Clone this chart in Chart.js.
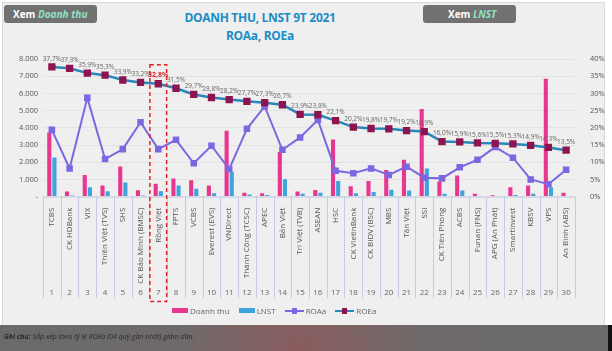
<!DOCTYPE html>
<html>
<head>
<meta charset="utf-8">
<script src="https://cdn.jsdelivr.net/npm/chart.js@4.4.1/dist/chart.umd.min.js"></script>
<style>
  body { margin: 0; width: 612px; height: 351px; background: #fff; position: relative; overflow: hidden; font-family: 'Open Sans', sans-serif; }
  #panel { position: absolute; left: 2px; top: 2px; width: 601px; height: 322px; background: #efefef; border: 1px solid #d9d9d9; }
  .btn { position: absolute; top: 5px; height: 18px; background: #717171; border-radius: 3px; color: #fff; font-weight: bold; font-size: 10px; line-height: 18px; box-sizing: border-box; }
  .btn i { color: #8fe3c2; }
  #title { position: absolute; left: 160px; width: 200px; top: 9px; text-align: center; color: #1b8cc8; font-weight: bold; font-size: 12px; line-height: 18px; letter-spacing: -0.3px; }
  #chart { position: absolute; left: 0; top: 0; }
  #legend { position: absolute; left: 172px; top: 305px; display: flex; align-items: center; font-size: 8px; color: #666; }
  #legend span.it { display: flex; align-items: center; margin-right: 9px; }
  .box { display: inline-block; width: 16px; height: 5px; margin-right: 2px; }
  .ln { position: relative; display: inline-block; width: 19px; height: 2px; margin-right: 2px; }
  .ln b { position: absolute; left: 7px; top: -2px; width: 5px; height: 6px; }
  #note { position: absolute; left: 0; top: 325px; width: 608px; height: 26px; background: radial-gradient(circle at 300px 30px, #8a5b5e 0, #6f6a6a 120px, #6a6a6a 300px); font-size: 7px; font-style: italic; color: #2a2a2a; line-height: 24px; padding-left: 4px; box-sizing: border-box; }
  #edge { position: absolute; left: 608px; top: 325px; width: 4px; height: 26px; background: #111; }
</style>
</head>
<body>
<div id="panel"></div>
<div class="btn" style="left:4px;width:93px;padding-left:9px;">Xem <i>Doanh thu</i></div>
<div class="btn" style="left:423px;width:93px;padding-left:25px;">Xem <i>LNST</i></div>
<div id="title">DOANH THU, LNST 9T 2021<br>ROAa, ROEa</div>
<canvas id="chart" width="612" height="351"></canvas>
<div id="legend">
  <span class="it"><span class="box" style="background:#e8378f"></span>Doanh thu</span>
  <span class="it"><span class="box" style="background:#3fa3dc"></span>LNST</span>
  <span class="it"><span class="ln" style="background:#7b68e0"><b style="background:#7b68e0"></b></span>ROAa</span>
  <span class="it"><span class="ln" style="background:#2a86b8"><b style="background:#8e1450"></b></span>ROEa</span>
</div>
<div id="note"><b>Ghi chú:</b> Sắp xếp theo tỷ lệ ROEa (04 quý gần nhất) giảm dần.</div>
<div id="edge"></div>
<script>
const categories = ['TCBS', 'CK HDBank', 'VIX', 'Thiên Việt (TVS)', 'SHS', 'CK Bảo Minh (BMSC)', 'Rồng Việt', 'FPTS', 'VCBS', 'Everest (EVS)',
  'VNDirect', 'Thành Công (TCSC)', 'APEC', 'Bản Việt', 'Trí Việt (TVB)', 'ASEAN', 'HSC', 'CK VietinBank', 'CK BIDV (BSC)', 'MBS',
  'Tân Việt', 'SSI', 'CK Tiên Phong', 'ACBS', 'Funan (FNS)', 'APG (An Phát)', 'Smartinvest', 'KBSV', 'VPS', 'An Bình (ABS)'];
const ranks = categories.map((c, i) => String(i + 1));

// ty dong
const revenue = [3730, 290, 1250, 640, 1750, 370, 740, 1050, 950, 640, 3830, 230, 190, 2590, 290, 390, 3320, 600, 900, 1550,
  2140, 5100, 880, 1230, 160, 80, 550, 640, 6850, 230];
const profit = [2270, 60, 540, 310, 820, 60, 310, 640, 450, 190, 1450, 120, 90, 1010, 170, 230, 900, 190, 270, 400,
  350, 1630, 160, 350, 40, 40, 100, 160, 550, 40];
// %
const roaa = [19.4, 8.2, 28.7, 10.9, 13.8, 21.6, 13.8, 16.5, 9.7, 14.8, 8.0, 19.7, 26.2, 13.6, 17.2, 22.3, 7.5, 6.8, 8.2, 6.3,
  8.7, 5.5, 5.3, 8.5, 10.7, 14.4, 11.3, 5.0, 3.6, 7.8];
const roea = [37.7, 37.3, 35.9, 35.3, 33.9, 33.2, 32.8, 31.5, 29.7, 28.8, 28.2, 27.7, 27.3, 26.7, 23.9, 23.8, 22.1, 20.2, 19.8, 19.7,
  19.2, 18.9, 16.0, 15.9, 15.6, 15.5, 15.3, 14.9, 14.3, 13.5];
const highlight = 6; // Rong Viet

const fmtPct = v => v.toFixed(1).replace('.', ',') + '%';

const extras = {
  id: 'extras',
  afterDatasetsDraw(chart) {
    const ctx = chart.ctx;
    const x = chart.scales.x;
    const y1 = chart.scales.y1;
    const step = x.getPixelForValue(1) - x.getPixelForValue(0);
    const bottom = chart.chartArea.bottom;

    ctx.save();
    // separators under the axis
    ctx.strokeStyle = '#c3c9e6';
    ctx.lineWidth = 1;
    for (let i = 0; i <= categories.length; i++) {
      const px = Math.round(x.getPixelForValue(i) - step / 2) + 0.5;
      ctx.beginPath();
      ctx.moveTo(px, bottom);
      ctx.lineTo(px, bottom + 102);
      ctx.stroke();
    }
    ctx.beginPath();
    ctx.moveTo(chart.chartArea.left, bottom + 0.5);
    ctx.lineTo(chart.chartArea.right, bottom + 0.5);
    ctx.stroke();

    // rank numbers
    ctx.fillStyle = '#666';
    ctx.font = '8px "Open Sans"';
    ctx.textAlign = 'center';
    ctx.textBaseline = 'middle';
    ranks.forEach((r, i) => ctx.fillText(r, x.getPixelForValue(i), bottom + 96));

    // ROEa labels
    const meta = chart.getDatasetMeta(3);
    ctx.textBaseline = 'bottom';
    meta.data.forEach((pt, i) => {
      if (i === highlight) {
        ctx.fillStyle = '#e02424';
        ctx.font = 'bold 7px "Open Sans"';
      } else {
        ctx.fillStyle = '#666';
        ctx.font = '6.5px "Open Sans"';
      }
      ctx.fillText(fmtPct(roea[i]), pt.x, pt.y - 5);
    });

    // dashed box around highlight
    const cx = x.getPixelForValue(highlight);
    const top = y1.getPixelForValue(roea[highlight]) - 19;
    ctx.strokeStyle = '#e02424';
    ctx.lineWidth = 1.5;
    ctx.setLineDash([4, 3]);
    ctx.strokeRect(cx - step / 2 + 0.5, top, step - 1, bottom + 105 - top);
    ctx.restore();
  }
};

new Chart(document.getElementById('chart'), {
  data: {
    labels: categories,
    datasets: [
      { type: 'bar', label: 'Doanh thu', data: revenue, backgroundColor: '#e8378f', yAxisID: 'y', order: 2,
        categoryPercentage: 0.58, barPercentage: 0.8 },
      { type: 'bar', label: 'LNST', data: profit, backgroundColor: '#3fa3dc', yAxisID: 'y', order: 2,
        categoryPercentage: 0.58, barPercentage: 0.8 },
      { type: 'line', label: 'ROAa', data: roaa, borderColor: '#7b68e0', backgroundColor: '#7b68e0', borderWidth: 2,
        pointStyle: 'rect', pointRadius: 3.2, yAxisID: 'y1', order: 1, tension: 0 },
      { type: 'line', label: 'ROEa', data: roea, borderColor: '#2a86b8', backgroundColor: '#8e1450', pointBorderColor: '#8e1450',
        borderWidth: 2.5, pointStyle: 'rect', pointRadius: 3.4, yAxisID: 'y1', order: 0, tension: 0 }
    ]
  },
  options: {
    responsive: false,
    animation: false,
    layout: { padding: { top: 59, left: 0, right: 0, bottom: 0 } },
    plugins: { legend: { display: false }, tooltip: { enabled: false } },
    scales: {
      x: {
        grid: { display: false },
        border: { display: false },
        ticks: { autoSkip: false, minRotation: 90, maxRotation: 90, padding: 3, color: '#555', font: { size: 8, family: 'Open Sans' } },
        afterFit(s) { s.height = 351 - 196.6; }
      },
      y: {
        position: 'left', min: 0, max: 8000,
        grid: { color: '#e3e3e3', drawTicks: false },
        border: { display: false },
        ticks: { stepSize: 1000, padding: 5, color: '#555', font: { size: 7.5, family: 'Open Sans' },
          callback: v => v === 0 ? '-' : v.toLocaleString('de-DE') },
        afterFit(s) { s.width = 43; }
      },
      y1: {
        position: 'right', min: 0, max: 40,
        grid: { display: false },
        border: { display: false },
        ticks: { stepSize: 5, padding: 7, color: '#555', font: { size: 7.5, family: 'Open Sans' }, callback: v => v + '%' },
        afterFit(s) { s.width = 37; }
      }
    }
  },
  plugins: [extras]
});
</script>
</body>
</html>
